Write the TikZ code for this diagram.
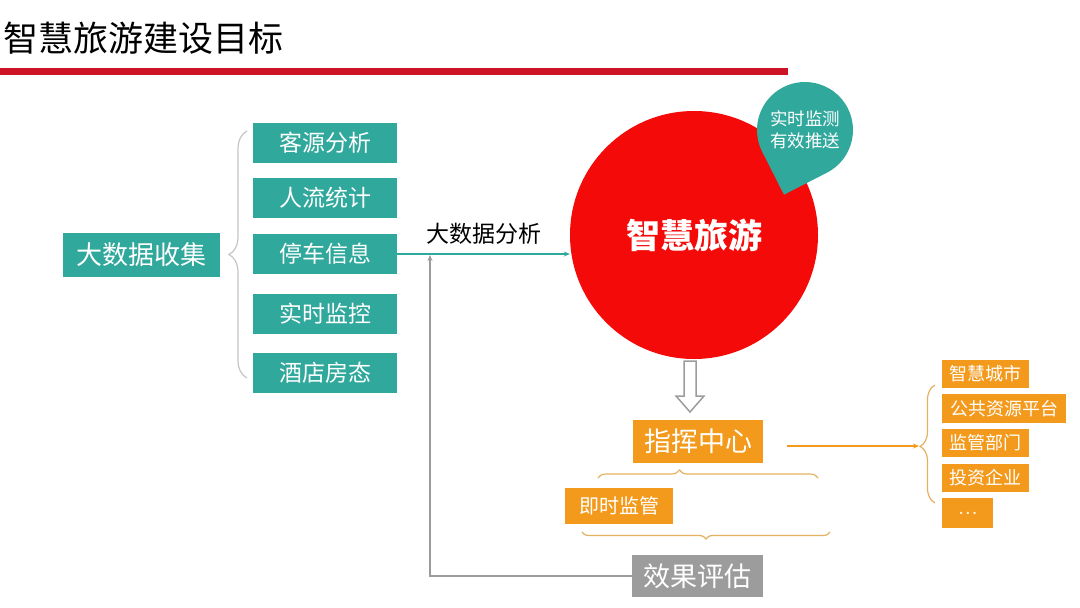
\documentclass[tikz,border=0pt]{standalone}
\usepackage{fontspec}
\setmainfont{Noto Sans CJK SC}
\usetikzlibrary{arrows.meta, positioning, calc, decorations.pathreplacing}
\definecolor{Teal}{HTML}{30A89C}
\definecolor{Signal}{HTML}{F50A0A}
\definecolor{Rule}{HTML}{CC1426}
\definecolor{Amber}{HTML}{F39A1C}
\definecolor{Slate}{HTML}{9C9C9C}
\definecolor{Mist}{HTML}{C4C4C4}
\definecolor{Gold}{HTML}{E3B160}

\begin{document}
\begin{tikzpicture}[x=1pt, y=-1pt,
  tealbox/.style={fill=Teal, text=white, inner sep=0pt, minimum width=144pt,
                  minimum height=40pt, font=\fontsize{23}{23}\selectfont},
  amberbox/.style={fill=Amber, text=white, inner sep=0pt},
  sidebox/.style={amberbox, anchor=west, minimum width=87pt, minimum height=28pt,
                  font=\fontsize{18}{18}\selectfont},
  curly/.style={decorate, decoration={brace, amplitude=#1}, line width=1.2pt}]
  \useasboundingbox (0,0) rectangle (1080,608);

  % heading
  \node[anchor=west, inner sep=0pt, font=\fontsize{35}{35}\selectfont] (title) at (3,38) {智慧旅游建设目标};
  \fill[Rule] (0,68) rectangle (788,75);

  % data sources
  \node[fill=Teal, text=white, inner sep=0pt, minimum width=157pt, minimum height=44pt,
        font=\fontsize{26}{26}\selectfont] (collect) at (141.5,255) {大数据收集};
  \node[tealbox] (src1) at (325,143) {客源分析};
  \node[tealbox] (src2) at (325,197.5) {人流统计};
  \node[tealbox] (src3) at (325,254) {停车信息};
  \node[tealbox] (src4) at (325,314) {实时监控};
  \node[tealbox] (src5) at (325,372.5) {酒店房态};
  \draw[Mist, curly=18pt, decoration={aspect=0.5}] (247,378) -- (247,131);

  % hub
  \node[circle, fill=Signal, minimum size=248pt, inner sep=0pt, text=white,
        font=\fontsize{34}{34}\selectfont\bfseries] (hub) at (694,235) {智慧旅游};
  \coordinate (bc) at (805,130);
  \fill[Teal] ($(bc)+(108:68)$) -- ($(bc)+(153:48)$) arc[start angle=153, end angle=423, radius=48] -- cycle;
  \node[text=white, align=center, inner sep=0pt,
        font=\fontsize{17.5}{22}\selectfont] (alert) at (bc) {实时监测\\有效推送};

  \draw[Teal, line width=2.5pt, -{Stealth[length=6pt, width=5pt]}] (src3.east) --
    node[above=5pt, text=black, font=\fontsize{23}{23}\selectfont] (bigdata) {大数据分析} (src3.east -| hub.west);

  % command
  \draw[Slate, line width=1.5pt, fill=white, shift={(690,361)}]
    (-6,0) -- (6,0) -- (6,35) -- (14,35) -- (0,51) -- (-14,35) -- (-6,35) -- cycle;
  \node[amberbox, minimum width=130pt, minimum height=43pt,
        font=\fontsize{27}{27}\selectfont] (cmd) at (698,441.5) {指挥中心};
  \draw[Gold, curly=8pt, decoration={aspect=0.37}] (598,478) -- (818,478);
  \node[amberbox, minimum width=108pt, minimum height=36pt,
        font=\fontsize{20}{20}\selectfont] (watch) at (619,506) {即时监管};
  \draw[Gold, curly=7pt, decoration={aspect=0.5}] (830,532) -- (582,532);
  \node[fill=Slate, text=white, inner sep=0pt, minimum width=131pt, minimum height=42pt,
        font=\fontsize{27}{27}\selectfont] (eval) at (697.5,576) {效果评估};

  \coordinate (back) at (430,255);
  \draw[Slate, line width=2pt, -{Stealth[length=6pt, width=5pt]}] (eval.west) -| (back);

  % receivers
  \node[sidebox] (out1) at (942,374) {智慧城市};
  \node[sidebox, minimum width=124pt, minimum height=29pt] (out2) at (942,408.5) {公共资源平台};
  \node[sidebox] (out3) at (942,443) {监管部门};
  \node[sidebox] (out4) at (942,477.5) {投资企业};
  \node[sidebox, minimum width=51pt, minimum height=30pt, text=white!85!Amber] (out5) at (942,513) {…};
  \draw[Gold, curly=15pt, decoration={aspect=0.48}] (935,503) -- (935,385);
  \coordinate (fan) at (919,446);
  \draw[Amber, line width=2.5pt, -{Stealth[length=6pt, width=5pt]}] ([xshift=24pt]cmd.east |- fan) -- (fan);
\end{tikzpicture}
\end{document}
